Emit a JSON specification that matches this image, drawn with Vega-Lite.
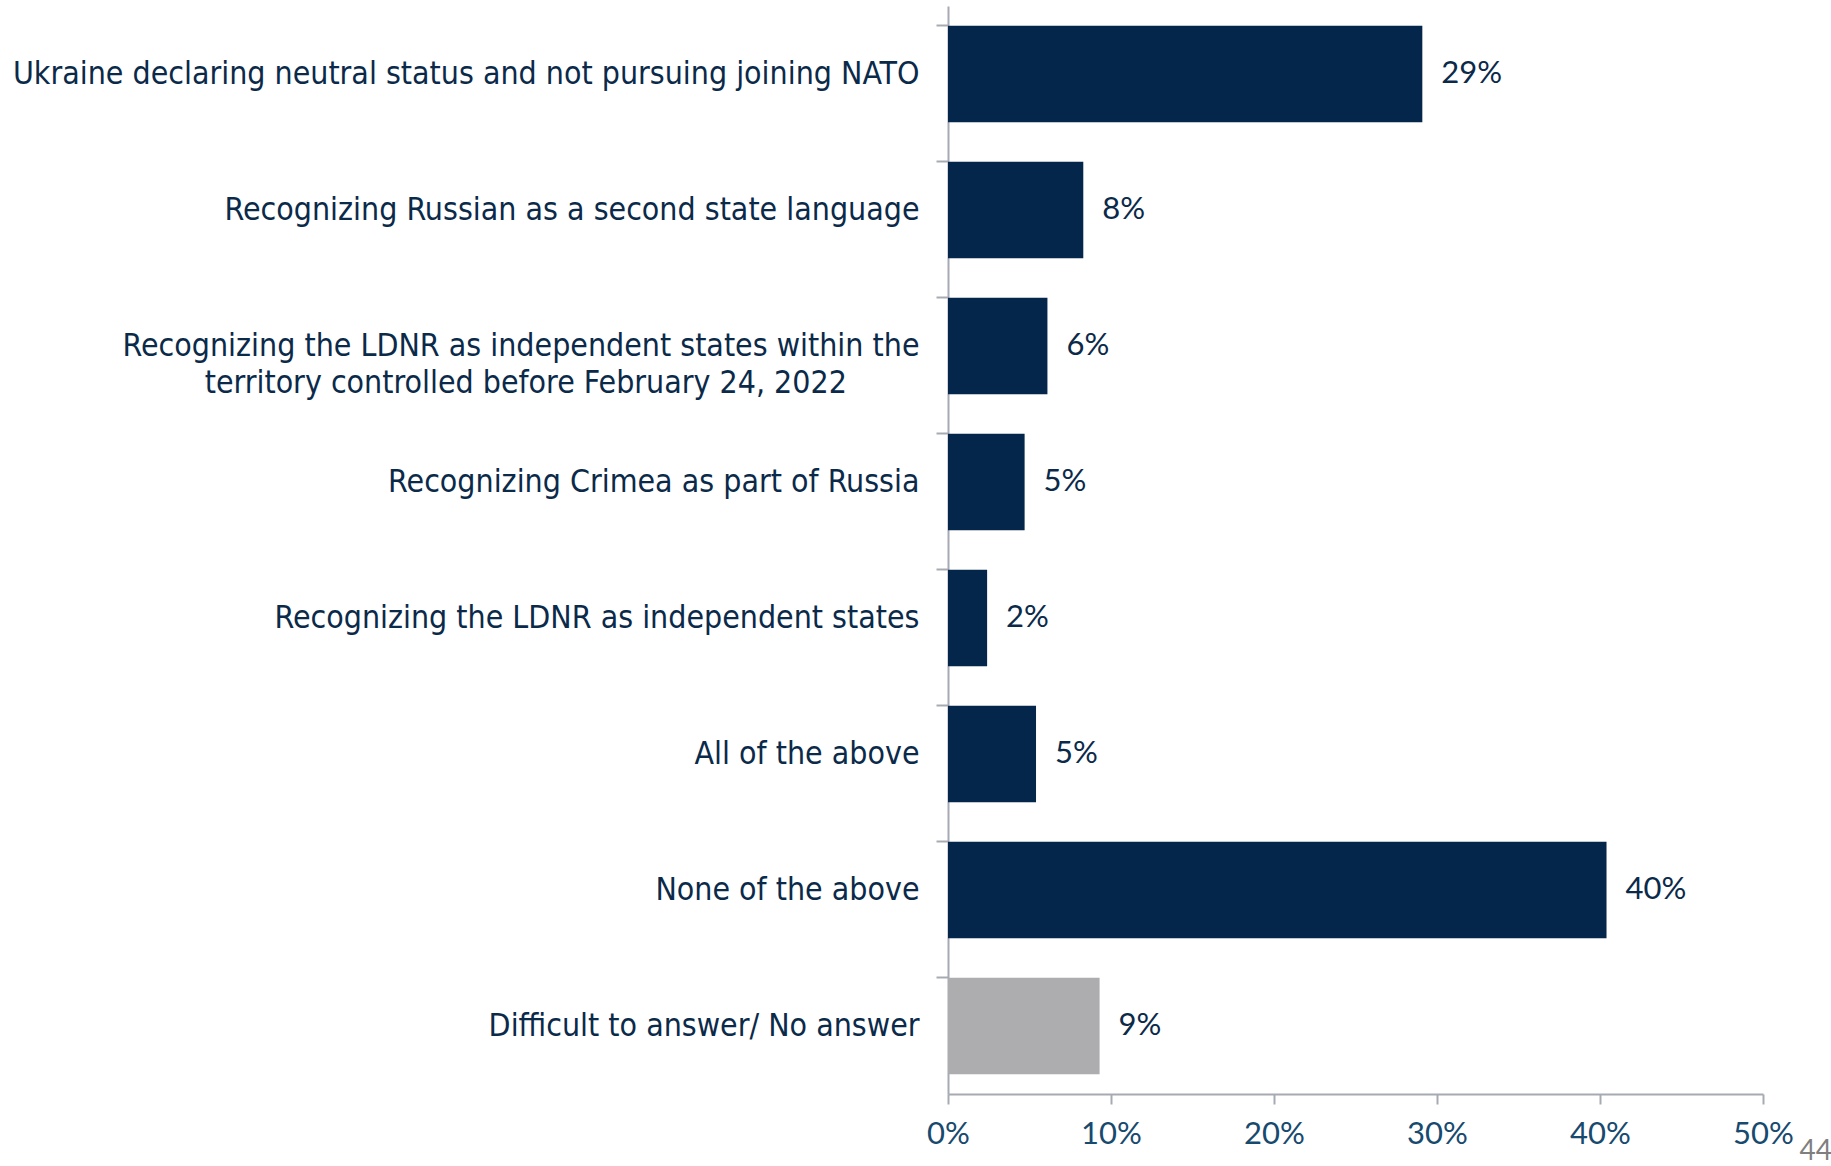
{
  "$schema": "https://vega.github.io/schema/vega-lite/v6.json",
  "width": 815,
  "height": 1088,
  "autosize": {"type": "none"},
  "padding": {"left": 948, "top": 6, "right": 68, "bottom": 72},
  "background": "white",
  "config": {"view": {"stroke": null}},
  "data": {
    "values": [
      {"answer": "Ukraine declaring neutral status and not pursuing joining NATO", "value": 0.291, "group": "main"},
      {"answer": "Recognizing Russian as a second state language", "value": 0.083, "group": "main"},
      {"answer": "Recognizing the LDNR as independent states within the|territory controlled before February 24, 2022\u00a0\u00a0\u00a0\u00a0\u00a0\u00a0\u00a0\u00a0\u200b", "value": 0.061, "group": "main"},
      {"answer": "Recognizing Crimea as part of Russia", "value": 0.047, "group": "main"},
      {"answer": "Recognizing the LDNR as independent states", "value": 0.024, "group": "main"},
      {"answer": "All of the above", "value": 0.054, "group": "main"},
      {"answer": "None of the above", "value": 0.404, "group": "main"},
      {"answer": "Difficult to answer/ No answer", "value": 0.093, "group": "dk"}
    ]
  },
  "encoding": {
    "y": {
      "field": "answer",
      "type": "nominal",
      "sort": null,
      "title": null,
      "scale": {"paddingInner": 0.29, "paddingOuter": 0.145},
      "axis": {
        "bandPosition": 0,
        "domainColor": "#A6AAB3",
        "domainWidth": 2,
        "tickColor": "#A6AAB3",
        "tickWidth": 2,
        "tickSize": 12,
        "labelPadding": 17,
        "labelFont": "DejaVu Sans Condensed",
        "labelFontSize": 31.8,
        "labelColor": "#0B2A4A",
        "labelLimit": 0,
        "labelLineHeight": 37,
        "labelBaseline": "middle",
        "labelExpr": "split(datum.label, '|')"
      }
    },
    "x": {
      "field": "value",
      "type": "quantitative",
      "scale": {"domain": [0, 0.5], "nice": false},
      "axis": {
        "values": [0, 0.1, 0.2, 0.3, 0.4, 0.5],
        "format": ".0%",
        "grid": false,
        "domainColor": "#A6AAB3",
        "domainWidth": 2,
        "tickColor": "#A6AAB3",
        "tickWidth": 2,
        "tickSize": 10,
        "labelPadding": 15,
        "labelFont": "Liberation Sans Narrow, Lato",
        "labelFontSize": 31,
        "labelColor": "#174A6E",
        "labelFlush": false,
        "title": "44",
        "titleFont": "Liberation Sans Narrow, Lato",
        "titleFontSize": 28,
        "titleFontWeight": "normal",
        "titleColor": "#7F7F7F",
        "titleAlign": "left",
        "titleAnchor": null,
        "titleBaseline": "alphabetic",
        "titleX": 851,
        "titleY": 65
      }
    }
  },
  "layer": [
    {
      "mark": {"type": "bar"},
      "encoding": {
        "color": {
          "field": "group",
          "type": "nominal",
          "scale": {"domain": ["main", "dk"], "range": ["#03264A", "#ADADAF"]},
          "legend": null
        }
      }
    },
    {
      "mark": {"type": "text", "align": "left", "dx": 19, "baseline": "middle", "font": "Liberation Sans Narrow, Lato", "fontSize": 31},
      "encoding": {
        "text": {"field": "value", "type": "quantitative", "format": ".0%"},
        "color": {"value": "#0B2A4A"}
      }
    }
  ]
}
